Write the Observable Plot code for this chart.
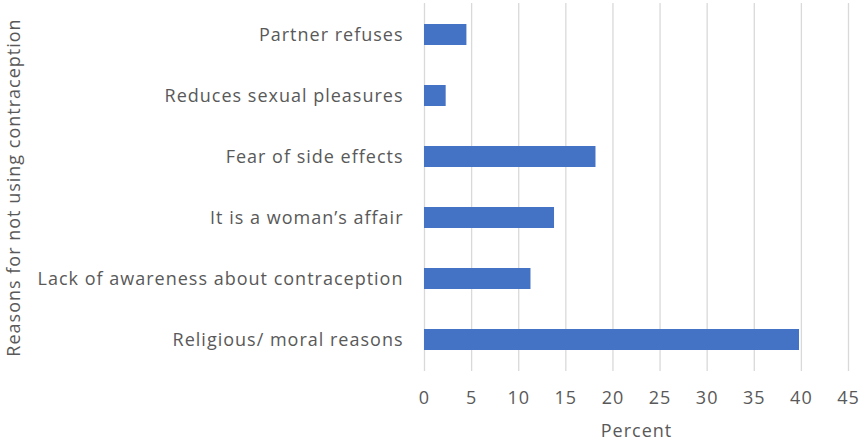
<!DOCTYPE html>
<html>
<head>
<meta charset="utf-8">
<script src="https://cdn.jsdelivr.net/npm/d3@7"></script>
<script src="https://cdn.jsdelivr.net/npm/@observablehq/plot@0.6"></script>
<style>
  html, body { margin: 0; padding: 0; background: #fff; }
  svg { font-family: "Open Sans", sans-serif; letter-spacing: 1px; }
  svg text { letter-spacing: 1px; }
</style>
</head>
<body>
<div id="chart"></div>
<script>
const categories = [
  "Partner refuses",
  "Reduces sexual pleasures",
  "Fear of side effects",
  "It is a woman\u2019s affair",
  "Lack of awareness about contraception",
  "Religious/ moral reasons"
];
const values = [4.5, 2.3, 18.2, 13.8, 11.3, 39.8];
const xTicks = [0, 5, 10, 15, 20, 25, 30, 35, 40, 45];
const xTitle = "Percent";
const yTitle = "Reasons for not using contraception";

const data = categories.map((c, i) => ({reason: c, percent: values[i]}));

const chart = Plot.plot({
  width: 861,
  height: 441,
  marginLeft: 424,
  marginRight: 13,
  marginTop: 3,
  marginBottom: 70,
  style: {fontSize: "18px", color: "#595959", background: "#fff"},
  x: {domain: [0, 45], ticks: xTicks},
  y: {domain: categories, paddingInner: 0.65, paddingOuter: 0.325},
  marks: [
    Plot.gridX(xTicks, {stroke: "#d9d9d9", strokeOpacity: 1, strokeWidth: 1.3}),
    Plot.barX(data, {y: "reason", x: "percent", fill: "#4472C4"}),
    Plot.axisX({ticks: xTicks, tickSize: 0, tickPadding: 20, label: null, fontSize: 18}),
    Plot.axisY({tickSize: 0, tickPadding: 21, label: null, fontSize: 18}),
    Plot.text([xTitle], {frameAnchor: "bottom", dy: 65, fontSize: 18, fill: "#595959"}),
    Plot.axisY({tickSize: 0, ticks: [], label: yTitle, labelAnchor: "center", labelOffset: 417, fontSize: 18})
  ]
});
document.getElementById("chart").appendChild(chart);
</script>
</body>
</html>
